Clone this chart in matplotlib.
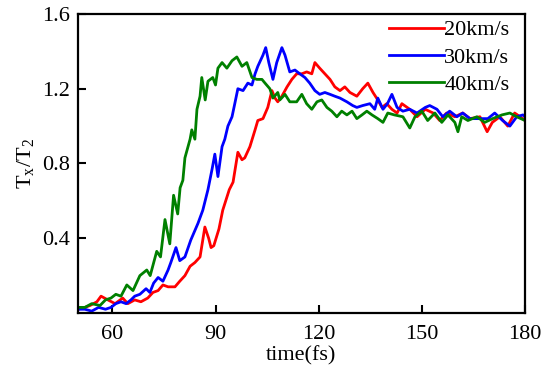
import numpy as np
import matplotlib
matplotlib.use('Agg')
import matplotlib.pyplot as plt

# ---------- datos ----------
t_20 = [50, 52, 53.5, 55.5, 56.7, 58.7, 60.8, 63, 64.5, 66.5, 68.3, 70.3, 71.8, 73.3, 74.7,
        76.2, 78.2, 79.6, 81.1, 82.6, 84, 85.5, 86.9, 88, 88.7, 89.5, 91, 92.1, 94, 95.1,
        96.5, 97.7, 98.5, 100, 101.5, 102.3, 103.8, 105.2, 106.4, 107.3, 108.1, 109.3,
        110.8, 112.2, 113.6, 115.1, 116.5, 118, 118.9, 120.3, 121.8, 123.3, 124.7, 126.2,
        127.6, 129.1, 131.1, 132.8, 134.3, 135.8, 137.2, 138.4, 139.8, 141.3, 142.8, 144.2,
        146.5, 148.6, 151, 153.3, 155.2, 157.2, 159.6, 161.9, 164, 166.9, 169, 170.5,
        172.7, 175, 177, 179.4, 180]
v_20 = [0.02, 0.03, 0.04, 0.06, 0.09, 0.07, 0.05, 0.08, 0.05, 0.07, 0.06, 0.08, 0.11, 0.12, 0.15,
        0.14, 0.14, 0.17, 0.20, 0.25, 0.27, 0.30, 0.46, 0.40, 0.35, 0.36, 0.45, 0.55, 0.66, 0.70,
        0.86, 0.82, 0.83, 0.89, 0.98, 1.03, 1.04, 1.10, 1.19, 1.15, 1.13, 1.16,
        1.21, 1.25, 1.28, 1.28, 1.29, 1.28, 1.34, 1.31, 1.28, 1.25, 1.21, 1.19,
        1.21, 1.18, 1.16, 1.20, 1.23, 1.18, 1.14, 1.10, 1.12, 1.09, 1.07, 1.12,
        1.09, 1.05, 1.09, 1.07, 1.03, 1.07, 1.05, 1.07, 1.04, 1.05, 0.97, 1.02,
        1.05, 1.00, 1.07, 1.04, 1.03]

t_30 = [50, 52, 54, 56, 58, 59.6, 61, 62.5, 64, 65.4, 66.5, 68, 69.8, 70.9, 72, 73.3, 74.7,
        76.2, 77, 78.5, 79.6, 81.1, 82.8, 84.9, 86.3, 87.8, 89, 89.8, 90.7, 91.9, 92.7,
        93.6, 94.8, 95.6, 96.5, 98, 99.4, 100.6, 101.5, 102.3, 103.8, 104.6, 105.5, 106.7,
        107.8, 109.3, 110.2, 111.6, 113.1, 114.5, 116, 117.4, 118.9, 120.3, 121.8, 123.3,
        124.7, 126.2, 128.2, 129.9, 131.1, 132.8, 134.9, 136.3, 137.2, 138.7, 140, 141.3,
        142.8, 144.5, 146.5, 148.6, 151, 152.3, 154.4, 156.1, 158.1, 160.2, 161.9, 164,
        166.9, 169.2, 171.2, 173.5, 175.6, 177.6, 179.4, 180]
v_30 = [0.02, 0.02, 0.01, 0.03, 0.02, 0.03, 0.05, 0.06, 0.05, 0.07, 0.09, 0.10, 0.13, 0.11, 0.16, 0.19, 0.17,
        0.23, 0.27, 0.35, 0.28, 0.30, 0.39, 0.48, 0.55, 0.66, 0.77, 0.85, 0.73, 0.89, 0.93,
        1.00, 1.05, 1.12, 1.20, 1.19, 1.23, 1.22, 1.28, 1.32, 1.38, 1.42, 1.34, 1.25,
        1.34, 1.42, 1.38, 1.29, 1.30, 1.28, 1.26, 1.23, 1.19, 1.17, 1.18, 1.17,
        1.16, 1.15, 1.13, 1.11, 1.10, 1.11, 1.12, 1.09, 1.15, 1.09, 1.12, 1.17,
        1.10, 1.08, 1.09, 1.07, 1.10, 1.11, 1.09, 1.05, 1.08, 1.05, 1.07, 1.04,
        1.04, 1.04, 1.07, 1.03, 1.00, 1.05, 1.06, 1.05]

t_40 = [50, 52, 54, 56.4, 58, 59.6, 61, 62.5, 64.2, 66, 68, 70, 71, 72.9, 74, 75.3, 76.7,
        77.8, 79, 79.7, 80.5, 81.1, 82.6, 83.1, 84, 84.6, 85.5, 86, 87, 87.8, 89.2, 90,
        90.7, 91.9, 93.3, 94.8, 96.2, 97.7, 99.1, 100.6, 102, 103.5, 104.4, 105.8, 106.7,
        108.1, 108.7, 110.2, 111.6, 113.6, 115.1, 116.5, 118, 119.5, 120.9, 122.4, 123.8,
        125.3, 126.7, 128.2, 129.7, 131.1, 132.6, 134, 135.5, 137.2, 138.7, 140.1, 142,
        144.5, 146.5, 148, 150, 151.7, 153.8, 155.8, 157.6, 159.6, 160.5, 161.6, 163.4,
        166, 168.3, 170.6, 173.3, 175.6, 177.6, 180]
v_40 = [0.03, 0.03, 0.05, 0.04, 0.07, 0.08, 0.10, 0.09, 0.15, 0.12, 0.20, 0.23, 0.20, 0.33, 0.30, 0.50, 0.37,
        0.63, 0.53, 0.67, 0.71, 0.83, 0.93, 0.98, 0.93, 1.09, 1.16, 1.26, 1.14, 1.24, 1.26, 1.22,
        1.31, 1.34, 1.31, 1.35, 1.37, 1.32, 1.34, 1.26, 1.25, 1.25, 1.23, 1.20, 1.15,
        1.18, 1.14, 1.17, 1.13, 1.13, 1.17, 1.12, 1.09, 1.13, 1.14, 1.10, 1.08,
        1.05, 1.08, 1.06, 1.08, 1.04, 1.06, 1.08, 1.06, 1.04, 1.02, 1.07, 1.06,
        1.05, 0.99, 1.05, 1.08, 1.03, 1.07, 1.02, 1.06, 1.02, 0.97, 1.05, 1.03,
        1.05, 1.02, 1.04, 1.06, 1.07, 1.05, 1.03]

etiquetas = ['20km/s', '30km/s', '40km/s']
colores = ['#ff0000', '#0000ff', '#008000']
xticks = [60, 90, 120, 150, 180]
yticks = [0.4, 0.8, 1.2, 1.6]

plt.rcParams['font.family'] = ['Liberation Serif', 'DejaVu Serif']
plt.rcParams['mathtext.fontset'] = 'stix'

fig = plt.figure(figsize=(5.5, 3.81), dpi=100)
ax = fig.add_axes([0.1418, 0.1785, 0.8127, 0.7848])

# Graficar las tres series
for t, v, lab, c in zip([t_20, t_30, t_40], [v_20, v_30, v_40], etiquetas, colores):
    ax.plot(t, v, color=c, lw=2.0, label=lab)

ax.set_xlim(50, 180)
ax.set_ylim(0, 1.6)
ax.set_xticks(xticks)
ax.set_yticks(yticks)
ax.set_yticklabels(['0.4', '0.8', '1.2', '1.6'])
ax.tick_params(direction='in', length=6, width=1.5, labelsize=16)
ax.tick_params(axis='x', pad=9)
ax.tick_params(axis='y', pad=6)
for s in ax.spines.values():
    s.set_linewidth(1.6)

ax.set_xlabel('time(fs)', fontsize=16, labelpad=1)
ax.set_ylabel(r'T$_\mathregular{x}$/T$_\mathregular{2}$', fontsize=16, labelpad=4)

ax.legend(loc='upper right', frameon=False, fontsize=16, handlelength=2.5,
          handletextpad=0.0, labelspacing=0.3, borderaxespad=0.0,
          bbox_to_anchor=(0.985, 1.01))

fig.savefig('out.png', dpi=100)
